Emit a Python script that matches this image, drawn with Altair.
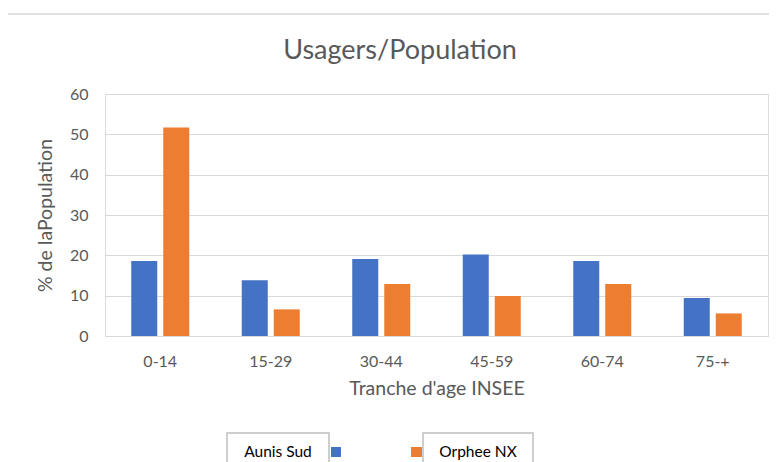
import altair as alt
import pandas as pd

categories = ["0-14", "15-29", "30-44", "45-59", "60-74", "75-+"]
aunis_sud = [18.6, 13.8, 19.1, 20.2, 18.6, 9.4]
orphee_nx = [51.7, 6.6, 12.9, 9.9, 12.9, 5.6]
series = ["Aunis Sud", "Orphee NX"]
colors = ["#4472C4", "#ED7D31"]
y_ticks = [0, 10, 20, 30, 40, 50, 60]
chart_title = ["Usagers/Population"]

rows = []
for i, c in enumerate(categories):
    rows.append({"cat": c, "serie": series[0], "val": aunis_sud[i]})
    rows.append({"cat": c, "serie": series[1], "val": orphee_nx[i]})
df = pd.DataFrame(rows)

FONT = "Lato"
GREY = "#595959"
W, H = 663, 242

bars = alt.Chart(df).mark_bar().encode(
    x=alt.X("cat:N", sort=categories,
            scale=alt.Scale(paddingInner=0.475, paddingOuter=0.2375),
            axis=alt.Axis(title="Tranche d'age INSEE", labelAngle=0, ticks=False,
                          domainColor="#d9d9d9", labelPadding=17, titlePadding=10,
                          labelFontSize=16, titleFontSize=19.5, labelColor=GREY,
                          titleColor=GREY, labelFont=FONT, titleFont=FONT,
                          titleFontWeight="normal")),
    xOffset=alt.XOffset("serie:N", sort=series,
                        scale=alt.Scale(paddingInner=0.1875, paddingOuter=0)),
    y=alt.Y("val:Q", scale=alt.Scale(domain=[0, 60], nice=False),
            axis=alt.Axis(title="% de laPopulation", values=y_ticks, ticks=False,
                          domain=False, gridColor="#d9d9d9", labelPadding=17,
                          labelFontSize=16, titleFontSize=19.5, labelColor=GREY,
                          titleColor=GREY, labelFont=FONT, titleFont=FONT,
                          titleFontWeight="normal", titlePadding=14)),
    color=alt.Color("serie:N", sort=series,
                    scale=alt.Scale(domain=series, range=colors), legend=None),
)

top_line = alt.Chart(df).mark_rule(color="#e0e0e0", strokeWidth=2).encode(
    x=alt.value(-98), x2=alt.value(672), y=alt.value(-80)
)

title_df = pd.DataFrame({"t": chart_title})
title = alt.Chart(title_df).mark_text(font=FONT, fontSize=27, color=GREY,
                                      baseline="alphabetic", align="center").encode(
    text="t:N", x=alt.value(295), y=alt.value(-35))

leg1 = pd.DataFrame({"t": [series[0]]})
leg2 = pd.DataFrame({"t": [series[1]]})

box1 = alt.Chart(leg1).mark_rect(fill="white", stroke="#bfbfbf", strokeWidth=1.5).encode(
    x=alt.value(122), x2=alt.value(224), y=alt.value(339), y2=alt.value(380))
box2 = alt.Chart(leg2).mark_rect(fill="white", stroke="#bfbfbf", strokeWidth=1.5).encode(
    x=alt.value(318), x2=alt.value(428), y=alt.value(339), y2=alt.value(380))
sq1 = alt.Chart(leg1).mark_rect(color=colors[0]).encode(
    x=alt.value(226), x2=alt.value(236), y=alt.value(353), y2=alt.value(363))
sq2 = alt.Chart(leg2).mark_rect(color=colors[1]).encode(
    x=alt.value(306), x2=alt.value(317), y=alt.value(353), y2=alt.value(363))
txt1 = alt.Chart(leg1).mark_text(font=FONT, fontSize=15.5, color="#000000", baseline="alphabetic").encode(
    text="t:N", x=alt.value(173), y=alt.value(363))
txt2 = alt.Chart(leg2).mark_text(font=FONT, fontSize=15.5, color="#000000", baseline="alphabetic").encode(
    text="t:N", x=alt.value(373), y=alt.value(363))

chart = alt.layer(top_line, title, bars, box1, box2, sq1, sq2, txt1, txt2).properties(
    width=W, height=H,
    autosize=alt.AutoSizeParams(type="none"),
    padding={"left": 97, "top": 86, "right": 1, "bottom": 126},
).configure_view(stroke=None).configure(background="white")

chart.save("out.html", embed_options={"renderer": "svg", "actions": False})
